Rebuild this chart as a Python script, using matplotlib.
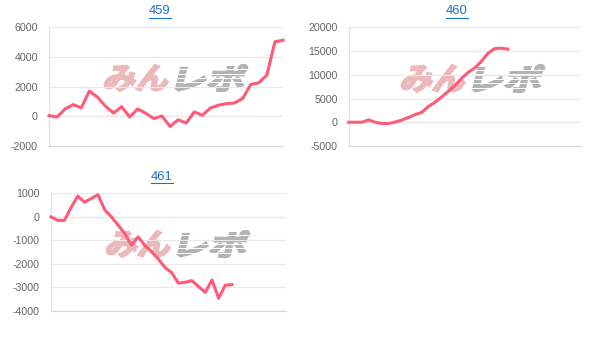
import math
import matplotlib
matplotlib.use('Agg')
import matplotlib.pyplot as plt
from matplotlib.textpath import TextPath
from matplotlib.font_manager import FontProperties
from matplotlib.patches import PathPatch
from matplotlib.transforms import Affine2D, IdentityTransform
from matplotlib.lines import Line2D

# ---------------- data ----------------
titles = ["459", "460", "461"]

n_labels_459 = 30
values_459 = [50, -50, 500, 790, 570, 1700, 1300, 680, 220, 650, -50, 500, 200, -150, 20,
              -680, -230, -450, 300, 70, 560, 750, 860, 900, 1200, 2150, 2260, 2780, 5020, 5130]

n_labels_460 = 36
values_460 = [0, 0, 0, 500, 0, -250, -280, 50, 450, 1000, 1600, 2050, 3300, 4200, 5300,
              6500, 7700, 9200, 10500, 11400, 12800, 14500, 15500, 15600, 15400]

n_labels_461 = 36
values_461 = [0, -150, -150, 400, 880, 620, 780, 940, 300, 0, -350, -710, -1200, -850,
              -1220, -1480, -1790, -2150, -2370, -2820, -2780, -2710, -2960, -3210, -2680,
              -3460, -2900, -2880]

yticks_459 = [-2000, 0, 2000, 4000, 6000]
yticks_460 = [-5000, 0, 5000, 10000, 15000, 20000]
yticks_461 = [-4000, -3000, -2000, -1000, 0, 1000]

# ---------------- style ----------------
W, H, DPI = 606, 338, 100
LINE = '#ff5a78'
GRID = '#e9e9e9'
ZERO = '#cccccc'
TICKC = '#666666'
LINK = '#1a6fd0'
FONT = 'Liberation Sans'

fig = plt.figure(figsize=(W / DPI, H / DPI), dpi=DPI)
fig.patch.set_facecolor('white')


def axes_px(l, t, r, b):
    return fig.add_axes([l / W, 1 - b / H, (r - l) / W, (b - t) / H])


def logo(x0, top, bottom):
    fp = FontProperties(family='Noto Sans CJK JP', weight='bold')
    th = bottom - top
    parts = [("みん", '#ecb9bb', x0, 69, False), ("レポ", '#b3b3b3', x0 + 72, 73, True)]
    for s, col, px, tw, striped in parts:
        p = TextPath((0, 0), s, size=100, prop=fp)
        ext = p.get_extents()
        shear = 14
        extra = math.tan(math.radians(shear)) * th
        tr = (Affine2D().translate(-ext.x0, -ext.y0)
              .scale((tw - extra) / ext.width, th / ext.height)
              .skew_deg(shear, 0)
              .translate(px, H - bottom))
        patch = PathPatch(tr.transform_path(p), facecolor=col, edgecolor=col, lw=1.6,
                          joinstyle='miter', transform=IdentityTransform(), zorder=-2)
        fig.add_artist(patch)
        if striped:
            for k in range(1, 6):
                yy = H - bottom + th * k / 6.0
                fig.add_artist(Line2D([px - 2, px + tw + 4], [yy, yy], color='white',
                                      lw=0.7, transform=IdentityTransform(), zorder=-1.5))


def chart(box, n, vals, ticks, title, title_xy):
    ax = axes_px(*box)
    ax.set_facecolor('none')
    x = list(range(len(vals)))
    ax.set_xlim(0, n - 1)
    ax.set_ylim(ticks[0], ticks[-1])
    ax.set_yticks(ticks)
    ax.set_yticklabels([str(t) for t in ticks], fontfamily=FONT)
    ax.set_xticks([])
    ax.grid(axis='y', color=GRID, lw=0.8)
    ax.axhline(0, color=ZERO, lw=0.8, zorder=1.5)
    for s in ['top', 'right']:
        ax.spines[s].set_visible(False)
    ax.spines['left'].set_color('#e2e2e2')
    ax.spines['left'].set_linewidth(0.8)
    ax.spines['bottom'].set_color('#d6d6d6')
    ax.spines['bottom'].set_linewidth(0.8)
    ax.tick_params(axis='y', length=0, pad=8, labelsize=7.7, labelcolor=TICKC)
    ax.plot(x, vals, color=LINE, lw=2.2, solid_joinstyle='round', zorder=3, clip_on=False)
    t = fig.text(title_xy[0] / W, 1 - title_xy[1] / H, title, ha='center', va='center',
                 color=LINK, fontsize=9.4, fontfamily=FONT)
    return ax, t


logo(103, 65, 91)
logo(400, 65, 92)
logo(105, 231, 257)

_, t1 = chart((49, 27.3, 283, 146), n_labels_459, values_459, yticks_459, titles[0], (160, 11.5))
_, t2 = chart((348.7, 27.3, 580.7, 146), n_labels_460, values_460, yticks_460, titles[1], (457, 11.5))
_, t3 = chart((51, 193.3, 285.7, 311), n_labels_461, values_461, yticks_461, titles[2], (161.7, 177))

fig.canvas.draw()
r = fig.canvas.get_renderer()
for t in (t1, t2, t3):
    bb = t.get_window_extent(r)
    y = bb.y0
    fig.add_artist(Line2D([bb.x0, bb.x1], [y, y], color=LINK, lw=0.8,
                          transform=IdentityTransform()))

fig.savefig('out.png', dpi=DPI, facecolor='white')
